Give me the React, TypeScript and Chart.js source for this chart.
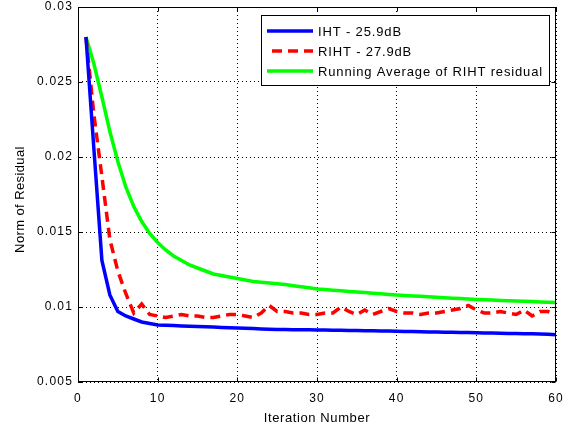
import React, { useEffect, useRef } from "react";
import { Chart, registerables } from "chart.js";

Chart.register(...registerables);

const iterations = [
  1, 2, 3, 4, 5, 6, 7, 8, 9, 10, 11, 12, 13, 14, 15, 16, 17, 18, 19, 20,
  21, 22, 23, 24, 25, 26, 27, 28, 29, 30, 31, 32, 33, 34, 35, 36, 37, 38, 39, 40,
  41, 42, 43, 44, 45, 46, 47, 48, 49, 50, 51, 52, 53, 54, 55, 56, 57, 58, 59, 60,
];

const ihtResidual = [
  0.028, 0.0205, 0.0131, 0.0108, 0.0097, 0.0094, 0.0092, 0.009, 0.0089, 0.0088,
  0.00878, 0.00876, 0.00874, 0.00872, 0.0087, 0.00868, 0.00866, 0.00864, 0.00862, 0.0086,
  0.00858, 0.00856, 0.00854, 0.00852, 0.0085, 0.0085, 0.00849, 0.00848, 0.00848, 0.00847,
  0.00846, 0.00845, 0.00845, 0.00844, 0.00843, 0.00842, 0.00841, 0.0084, 0.0084, 0.00838,
  0.00837, 0.00836, 0.00835, 0.00834, 0.00833, 0.00832, 0.00831, 0.0083, 0.0083, 0.00828,
  0.00827, 0.00826, 0.00825, 0.00824, 0.00823, 0.00822, 0.00821, 0.0082, 0.00818, 0.00815,
];

const rihtResidual = [
  0.028, 0.0228, 0.0187, 0.0145, 0.0124, 0.0109, 0.0096, 0.0102, 0.0095, 0.0094,
  0.0093, 0.0094, 0.0095, 0.0094, 0.0094, 0.0093, 0.0093, 0.0094, 0.0095, 0.0095,
  0.0094, 0.0093, 0.0096, 0.0101, 0.0097, 0.0097, 0.0096, 0.0096, 0.0095, 0.0095,
  0.0096, 0.0096, 0.01, 0.0097, 0.0095, 0.0098, 0.0095, 0.0097, 0.0099, 0.0097,
  0.0096, 0.0096, 0.0095, 0.0096, 0.0096, 0.0097, 0.0098, 0.0099, 0.0101, 0.0098,
  0.0096, 0.0096, 0.0097, 0.0096, 0.0095, 0.0098, 0.0094, 0.0097, 0.0097, 0.0095,
];

const runningAverage = [
  0.028, 0.0262, 0.024, 0.0217, 0.0197, 0.018, 0.0167, 0.0157, 0.0149, 0.0143,
  0.0138, 0.0134, 0.0131, 0.0128, 0.0126, 0.0124, 0.0122, 0.0121, 0.012, 0.0119,
  0.0118, 0.0117, 0.01165, 0.0116, 0.01155, 0.0115, 0.01142, 0.01135, 0.01128, 0.0112,
  0.01116, 0.01112, 0.01108, 0.01104, 0.011, 0.01096, 0.01092, 0.01088, 0.01084, 0.0108,
  0.01077, 0.01074, 0.01071, 0.01068, 0.01065, 0.01062, 0.01059, 0.01056, 0.01053, 0.0105,
  0.01048, 0.01046, 0.01044, 0.01042, 0.0104, 0.01038, 0.01036, 0.01034, 0.01032, 0.0103,
];

const seriesLabels = ["IHT - 25.9dB", "RIHT - 27.9dB", "Running Average of RIHT residual"];
const xAxisTitle = "Iteration Number";
const yAxisTitle = "Norm of Residual";
const xTickValues = [0, 10, 20, 30, 40, 50, 60];
const yTickValues = [0.005, 0.01, 0.015, 0.02, 0.025, 0.03];

const FONT = '"Liberation Sans", Arial, Helvetica, sans-serif';

const toPoints = (ys: number[]) => ys.map((y, i) => ({ x: iterations[i], y }));

const zeroPad = (s: any) => {
  s.paddingTop = 0;
  s.paddingBottom = 0;
  s.paddingLeft = 0;
  s.paddingRight = 0;
};

const framePlugin = {
  id: "matlabFrame",
  beforeDraw(chart: any) {
    (chart.ctx as any).letterSpacing = "1.2px";
  },
  afterDraw(chart: any) {
    const ctx = chart.ctx as CanvasRenderingContext2D;
    const a = chart.chartArea;
    const xs = chart.scales.x;
    const ys = chart.scales.y;
    ctx.save();
    ctx.strokeStyle = "#000";
    ctx.lineWidth = 1;
    ctx.setLineDash([]);
    const L = Math.round(a.left) + 0.5;
    const R = Math.round(a.right) - 0.5;
    const T = Math.round(a.top) + 0.5;
    const B = Math.round(a.bottom) - 0.5;
    ctx.strokeRect(L, T, R - L, B - T);
    const tl = 4;
    ctx.beginPath();
    xTickValues.forEach((v) => {
      const px = Math.round(xs.getPixelForValue(v)) + 0.5;
      ctx.moveTo(px, B);
      ctx.lineTo(px, B - tl);
      ctx.moveTo(px, T);
      ctx.lineTo(px, T + tl);
    });
    yTickValues.forEach((v) => {
      const py = Math.round(ys.getPixelForValue(v)) + 0.5;
      ctx.moveTo(L, py);
      ctx.lineTo(L + tl, py);
      ctx.moveTo(R, py);
      ctx.lineTo(R - tl, py);
    });
    ctx.stroke();

    // axis titles
    (ctx as any).letterSpacing = "0.6px";
    ctx.font = `13px ${FONT}`;
    ctx.fillStyle = "#000";
    ctx.textAlign = "center";
    ctx.textBaseline = "middle";
    ctx.fillText(xAxisTitle, (a.left + a.right) / 2, chart.height - 10.5);
    ctx.save();
    ctx.translate(20, (a.top + a.bottom) / 2 + 5);
    ctx.rotate(-Math.PI / 2);
    (ctx as any).letterSpacing = "0.4px";
    ctx.fillText(yAxisTitle, 0, 0);
    ctx.restore();

    // legend
    (ctx as any).letterSpacing = "0.85px";
    ctx.font = `13px ${FONT}`;
    const datasets = chart.data.datasets;
    const textW = Math.max(...datasets.map((d: any) => ctx.measureText(d.label).width));
    const sampleW = 46;
    const boxW = 6 + sampleW + 5 + textW + 6;
    const boxRight = Math.round(a.right) - 7;
    const boxLeft = Math.round(boxRight - boxW);
    const boxTop = Math.round(a.top) + 8;
    const rowH = 20;
    const boxH = 10 + rowH * datasets.length;
    ctx.fillStyle = "#fff";
    ctx.fillRect(boxLeft + 0.5, boxTop + 0.5, boxRight - boxLeft, boxH);
    ctx.strokeStyle = "#000";
    ctx.lineWidth = 1;
    ctx.strokeRect(boxLeft + 0.5, boxTop + 0.5, boxRight - boxLeft, boxH);
    datasets.forEach((d: any, i: number) => {
      const cy = boxTop + 16 + i * rowH;
      ctx.save();
      ctx.strokeStyle = d.borderColor;
      ctx.lineWidth = d.borderWidth;
      ctx.setLineDash(d.borderDash || []);
      ctx.beginPath();
      const sx = boxLeft + 6 + (d.borderDash ? 5 : 0);
      ctx.moveTo(sx, cy);
      ctx.lineTo(boxLeft + 6 + sampleW, cy);
      ctx.stroke();
      ctx.restore();
      ctx.fillStyle = "#000";
      ctx.textBaseline = "middle";
      ctx.textAlign = "left";
      ctx.fillText(d.label, boxLeft + 6 + sampleW + 5, cy + 1);
    });
    ctx.restore();
  },
};

export default function App() {
  const canvasRef = useRef<HTMLCanvasElement | null>(null);

  useEffect(() => {
    const canvas = canvasRef.current;
    if (!canvas) return;
    const chart = new Chart(canvas, {
      type: "line",
      data: {
        datasets: [
          {
            label: seriesLabels[0],
            data: toPoints(ihtResidual),
            borderColor: "#0000ff",
            borderWidth: 3.5,
            pointRadius: 0,
            tension: 0,
          },
          {
            label: seriesLabels[1],
            data: toPoints(rihtResidual),
            borderColor: "#ff0000",
            borderWidth: 3.5,
            borderDash: [10, 6],
            pointRadius: 0,
            tension: 0,
          },
          {
            label: seriesLabels[2],
            data: toPoints(runningAverage),
            borderColor: "#00ff00",
            borderWidth: 3.5,
            pointRadius: 0,
            tension: 0,
          },
        ] as any,
      },
      options: {
        animation: false,
        responsive: false,
        maintainAspectRatio: false,
        layout: { padding: { top: 7, right: 14, left: 0, bottom: 0 } },
        plugins: {
          legend: { display: false },
          tooltip: { enabled: false },
        },
        scales: {
          x: {
            type: "linear",
            min: 0,
            max: 60,
            afterFit: (s: any) => {
              s.height = 47;
              zeroPad(s);
            },
            afterBuildTicks: (s: any) => {
              s.ticks = xTickValues.map((v) => ({ value: v }));
            },
            ticks: {
              color: "#000",
              font: { family: FONT, size: 12 },
              padding: 9,
              maxRotation: 0,
              callback: (v: any) => String(v),
            },
            grid: {
              color: "#000",
              lineWidth: 1,
              drawTicks: false,
            },
            border: { display: false, dash: [1, 3] },
            title: { display: false },
          },
          y: {
            type: "linear",
            min: 0.005,
            max: 0.03,
            afterFit: (s: any) => {
              s.width = 78;
              zeroPad(s);
            },
            afterBuildTicks: (s: any) => {
              s.ticks = yTickValues.map((v) => ({ value: v }));
            },
            ticks: {
              color: "#000",
              font: { family: FONT, size: 12 },
              padding: 5,
              callback: (v: any) => String(Number(Number(v).toFixed(3))),
            },
            grid: {
              color: "#000",
              lineWidth: 1,
              drawTicks: false,
            },
            border: { display: false, dash: [1, 3] },
            title: { display: false },
          },
        },
      } as any,
      plugins: [framePlugin],
    });
    return () => chart.destroy();
  }, []);

  return (
    <div style={{ position: "fixed", left: 0, top: 0, width: 570, height: 429, background: "#fff" }}>
      <canvas ref={canvasRef} width={570} height={429} style={{ width: 570, height: 429, display: "block" }} />
    </div>
  );
}
